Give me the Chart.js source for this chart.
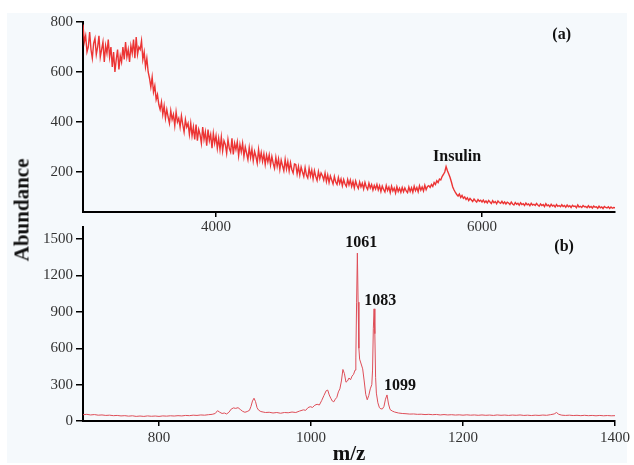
<!DOCTYPE html>
<html>
<head>
<meta charset="utf-8">
<script src="https://cdn.jsdelivr.net/npm/chart.js@4/dist/chart.umd.min.js"></script>
<style>
  html, body { margin:0; padding:0; background:#ffffff; }
  #wrap { position:relative; width:634px; height:465px; overflow:hidden; }
  #bg { position:absolute; left:7px; top:13px; width:620px; height:450px; background:#f5f9fc; }
  canvas { position:absolute; left:0; }
  #c1 { top:0; }
  #c2 { top:215px; }
  #ytitle { position:absolute; left:22px; top:210px; transform:translate(-50%,-50%) rotate(-90deg);
            font:bold 21px "Liberation Serif", "Times New Roman", serif; color:#111; white-space:nowrap; }
</style>
</head>
<body>
<div id="wrap">
  <div id="bg"></div>
  <canvas id="c1" width="634" height="240"></canvas>
  <canvas id="c2" width="634" height="250"></canvas>
  <div id="ytitle">Abundance</div>
</div>
<script>
// ---------- Panel (a): m/z 3000..7000, sampled every 10 ----------
const aMzStart = 3000;
const aMzStep = 10;
const aAbundance = [
  790,720,745,680,700,760,690,655,715,735,670,700,745,660,690,720,640,705,675,730,
  660,700,620,680,600,650,690,610,665,640,700,650,720,660,690,640,705,675,730,655,
  740,670,700,690,725,650,680,620,655,600,575,540,580,520,545,490,510,470,450,480,
  430,465,415,450,420,395,445,410,430,385,440,400,415,380,425,390,360,410,380,395,
  350,395,345,380,330,390,325,370,350,315,380,330,360,305,370,325,350,295,355,315,
  345,295,335,290,340,285,325,310,275,330,295,280,335,270,315,290,320,265,310,280,
  315,262,300,275,250,298,258,292,245,282,262,235,290,248,278,242,272,230,268,240,
  268,228,262,235,215,258,222,252,210,248,225,205,250,212,242,204,238,210,196,232,
  230,192,222,188,220,200,182,218,188,176,215,184,208,172,205,182,166,202,175,196,
  185,168,196,162,188,158,184,168,152,182,160,150,178,154,172,145,170,152,142,170,
  148,168,142,162,136,164,146,134,160,140,155,132,158,140,130,155,136,150,128,146,
  132,150,128,145,122,144,130,120,146,126,140,118,143,124,136,116,141,122,135,119,
  138,121,136,124,117,140,122,137,119,143,125,138,121,145,127,140,124,147,129,142,
  145,138,150,142,158,150,165,158,172,168,182,190,200,222,205,192,178,160,140,128,
  118,110,104,112,98,106,95,100,90,97,86,94,88,82,92,85,80,90,83,87,
  80,88,78,84,76,86,80,74,85,77,82,73,84,78,75,83,74,80,72,79,
  76,70,80,72,68,78,71,75,67,77,70,73,66,76,69,72,65,75,68,71,
  66,74,68,63,72,66,70,62,73,65,68,61,71,64,67,60,70,63,66,61,
  69,62,66,59,68,61,65,58,67,62,64,57,68,60,63,58,66,61,62,57,
  65,58,62,56,64,59,61,55,63,57,60,54,62,58,56,61,54,60,55,58,
  57
];
const aXTicks = [4000, 6000];
const aYTicks = [200, 400, 600, 800];

// ---------- Panel (b): m/z 700..1400 ----------
const bMz = [
  700,705,710,715,720,725,730,735,740,745,750,755,760,765,770,775,780,785,790,795,
  800,805,810,815,820,825,830,835,840,845,850,855,860,865,870,874,877,880,883,886,
  889,892,895,898,901,904,907,910,913,916,919,921,923,925,927,929,931,934,937,940,
  945,950,955,960,965,970,975,980,985,990,993,996,999,1002,1005,1008,1011,1014,1017,1020,
  1022,1024,1026,1028,1030,1032,1034,1036,1038,1040,1042,1044,1046,1048,1050,1052,1054,1056,1058,1059,
  1060,1061,1062,1063,1064,1066,1068,1070,1072,1074,1076,1078,1080,1081,1082,1083,1084,1085,1086,1088,
  1090,1092,1094,1096,1098,1100,1102,1104,1107,1110,1115,1120,1125,1130,1135,1140,1145,1150,1155,1160,
  1165,1170,1175,1180,1185,1190,1195,1200,1205,1210,1215,1220,1225,1230,1235,1240,1245,1250,1255,1260,
  1265,1270,1275,1280,1285,1290,1295,1300,1305,1310,1315,1320,1323,1326,1330,1335,1340,1345,1350,1355,
  1360,1365,1370,1375,1380,1385,1390,1395,1400
];
const bAbundance = [
  52,55,50,53,48,50,46,48,44,46,42,44,40,43,38,41,38,42,39,41,
  38,42,40,43,41,44,42,46,44,48,46,50,48,52,55,62,85,72,62,66,
  58,72,98,108,104,110,95,80,72,78,88,120,165,188,160,110,90,78,74,70,
  72,66,70,64,70,68,74,70,82,92,88,110,118,112,130,138,132,168,210,250,
  255,215,188,165,158,180,195,240,265,330,425,390,320,330,355,340,370,385,420,520,
  980,1385,980,600,510,470,430,330,220,175,210,265,300,420,760,925,720,360,230,150,
  110,100,100,120,180,215,140,95,82,74,66,62,60,57,58,55,56,53,55,52,
  54,50,53,50,52,49,51,48,51,48,50,47,50,47,49,46,50,47,49,46,
  49,47,50,46,48,45,48,46,49,47,52,58,70,55,48,46,48,45,47,44,
  47,44,46,43,46,43,45,43,44
];
const bXTicks = [800, 1000, 1200, 1400];
const bYTicks = [0, 300, 600, 900, 1200, 1500];

// annotation texts (with anchor values on each panel's scales)
const aNotes = [
  { text: '(a)', mz: 6599, ab: 747 },
  { text: 'Insulin', mz: 5813, ab: 261 }
];
const bNotes = [
  { text: '(b)', mz: 1333, ab: 1433 },
  { text: '1061', mz: 1066, ab: 1466 },
  { text: '1083', mz: 1091, ab: 992 },
  { text: '1099', mz: 1117, ab: 291 }
];

const SERIF = '"Liberation Serif", "Times New Roman", serif';

const notesPlugin = {
  id: 'notes',
  afterDatasetsDraw(chart, args, opts) {
    const ctx = chart.ctx, xs = chart.scales.x, ys = chart.scales.y;
    ctx.save();
    ctx.font = 'bold 16px ' + SERIF;
    ctx.fillStyle = '#111';
    ctx.textAlign = 'center';
    ctx.textBaseline = 'middle';
    (opts.items || []).forEach(it => {
      ctx.fillText(it.text, xs.getPixelForValue(it.mz), ys.getPixelForValue(it.ab));
    });
    ctx.restore();
  }
};

function makeAxis(min, max, tickVals, isY, fitSize, tickPad) {
  return {
    type: 'linear', min: min, max: max,
    afterBuildTicks: s => { s.ticks = tickVals.map(v => ({ value: v })); },
    afterFit: s => { if (isY) s.width = fitSize; else s.height = fitSize; },
    grid: { display: true, drawOnChartArea: false, drawTicks: true, tickLength: isY ? 7 : 5, color: '#000', lineWidth: 1.5 },
    border: { display: true, color: '#000', width: 2 },
    ticks: { font: { family: SERIF, size: 15 }, color: '#333', padding: tickPad, maxRotation: 0, autoSkip: false,
             callback: v => String(v) }
  };
}

Chart.defaults.animation = false;

// Panel (a)
const aData = aAbundance.map((v, i) => ({ x: aMzStart + i * aMzStep, y: v }));
new Chart(document.getElementById('c1'), {
  type: 'line',
  data: { datasets: [{ data: aData, borderColor: 'rgb(236,52,52)', borderWidth: 1.4, pointRadius: 0, tension: 0, fill: false }] },
  options: {
    responsive: false, devicePixelRatio: 1, animation: false,
    layout: { padding: { top: 22, right: 19, left: 0, bottom: 0 } },
    plugins: { legend: { display: false }, tooltip: { enabled: false }, notes: { items: aNotes } },
    scales: {
      x: makeAxis(3000, 7000, aXTicks, false, 28, 1),
      y: makeAxis(40, 800, aYTicks, true, 83, 3)
    }
  },
  plugins: [notesPlugin]
});

// Panel (b)
const bData = bMz.map((m, i) => ({ x: m, y: bAbundance[i] }));
const bx = makeAxis(700, 1400, bXTicks, false, 44, 3);
bx.title = { display: true, text: 'm/z', color: '#111', font: { family: SERIF, size: 21, weight: 'bold', lineHeight: 1 }, padding: { top: 0, bottom: 0 } };
new Chart(document.getElementById('c2'), {
  type: 'line',
  data: { datasets: [{ data: bData, borderColor: 'rgb(222,78,88)', borderWidth: 1, pointRadius: 0, tension: 0, fill: false }] },
  options: {
    responsive: false, devicePixelRatio: 1, animation: false,
    layout: { padding: { top: 8, right: 19, left: 0, bottom: 0 } },
    plugins: { legend: { display: false }, tooltip: { enabled: false }, notes: { items: bNotes } },
    scales: {
      x: bx,
      y: makeAxis(0, 1600, bYTicks, true, 83, 3)
    }
  },
  plugins: [notesPlugin]
});
</script>
</body>
</html>
